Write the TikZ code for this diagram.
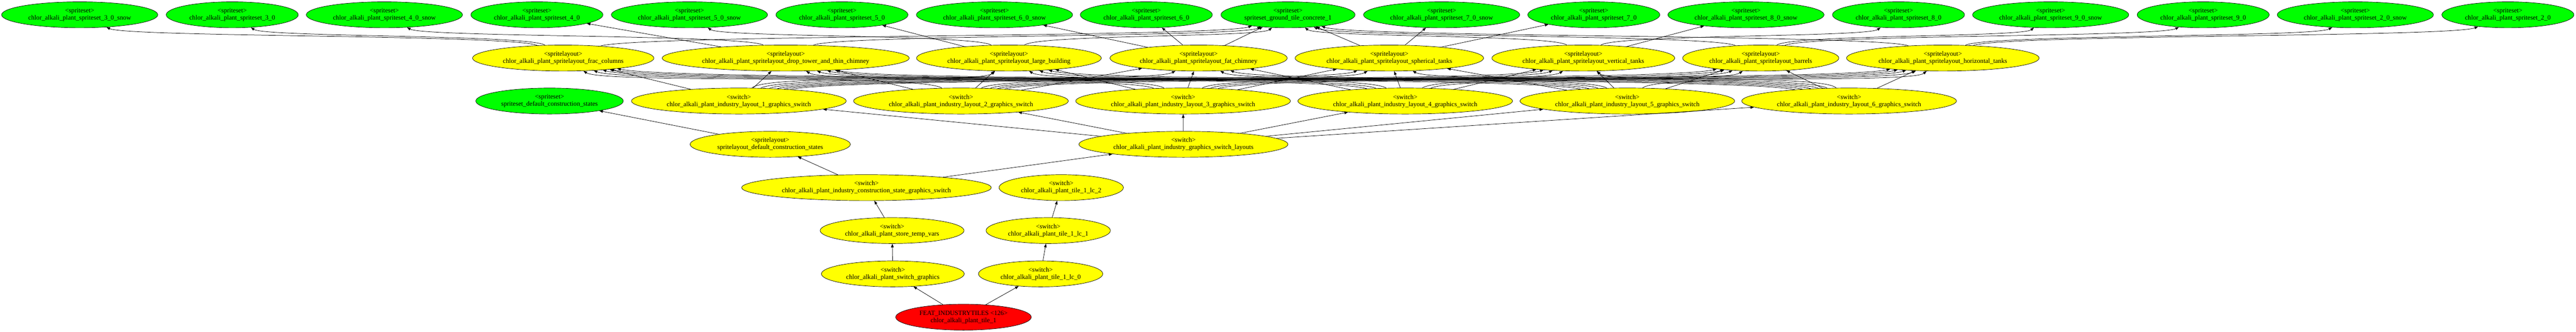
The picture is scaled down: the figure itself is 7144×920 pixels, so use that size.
\documentclass[tikz,border=0pt]{standalone}
\usepackage{fontspec}
\setmainfont{Liberation Serif}
\usetikzlibrary{shapes.geometric,arrows.meta}
\newcommand\pfx{chlor\_alkali\_plant\_}
\begin{document}
\begin{tikzpicture}[x=0.75pt,y=-0.75pt]
\tikzset{
  base/.style={ellipse, draw=black, line width=0.75pt, inner xsep=8pt, inner ysep=1pt,
    minimum height=54pt, align=center, font=\fontsize{13.6}{15}\selectfont},
  gnode/.style={base, fill={rgb,255:red,0;green,255;blue,0}},
  ynode/.style={base, fill={rgb,255:red,255;green,255;blue,0}},
  rnode/.style={base, fill={rgb,255:red,255;green,0;blue,0}},
  conn/.style={line width=0.8pt, -{Triangle[length=7.5pt,width=5.5pt]}}
}
\fill[white] (0,0) rectangle (7144,920);
\useasboundingbox (0,0) rectangle (7144,920);

% row 1: spritesets
\node[gnode] (s3snow) at (221,41) {<spriteset>\\\pfx spriteset\_3\_0\_snow};
\node[gnode] (s3) at (644,41) {<spriteset>\\\pfx spriteset\_3\_0};
\node[gnode] (s4snow) at (1066,41) {<spriteset>\\\pfx spriteset\_4\_0\_snow};
\node[gnode] (s4) at (1489,41) {<spriteset>\\\pfx spriteset\_4\_0};
\node[gnode] (s5snow) at (1912,41) {<spriteset>\\\pfx spriteset\_5\_0\_snow};
\node[gnode] (s5) at (2335,41) {<spriteset>\\\pfx spriteset\_5\_0};
\node[gnode] (s6snow) at (2758,41) {<spriteset>\\\pfx spriteset\_6\_0\_snow};
\node[gnode] (s6) at (3179,41) {<spriteset>\\\pfx spriteset\_6\_0};
\node[gnode] (gt) at (3572,41) {<spriteset>\\spriteset\_ground\_tile\_concrete\_1};
\node[gnode] (s7snow) at (3998,41) {<spriteset>\\\pfx spriteset\_7\_0\_snow};
\node[gnode] (s7) at (4420,41) {<spriteset>\\\pfx spriteset\_7\_0};
\node[gnode] (s8snow) at (4842,41) {<spriteset>\\\pfx spriteset\_8\_0\_snow};
\node[gnode] (s8) at (5265,41) {<spriteset>\\\pfx spriteset\_8\_0};
\node[gnode] (s9snow) at (5687,41) {<spriteset>\\\pfx spriteset\_9\_0\_snow};
\node[gnode] (s9) at (6110,41) {<spriteset>\\\pfx spriteset\_9\_0};
\node[gnode] (s2snow) at (6532,41) {<spriteset>\\\pfx spriteset\_2\_0\_snow};
\node[gnode] (s2) at (6955,41) {<spriteset>\\\pfx spriteset\_2\_0};

% row 2: spritelayouts
\node[ynode] (frac) at (1562,161) {<spritelayout>\\\pfx spritelayout\_frac\_columns};
\node[ynode] (drop) at (2179,161) {<spritelayout>\\\pfx spritelayout\_drop\_tower\_and\_thin\_chimney};
\node[ynode] (large) at (2798,161) {<spritelayout>\\\pfx spritelayout\_large\_building};
\node[ynode] (fat) at (3324,161) {<spritelayout>\\\pfx spritelayout\_fat\_chimney};
\node[ynode] (spher) at (3853,161) {<spritelayout>\\\pfx spritelayout\_spherical\_tanks};
\node[ynode] (vert) at (4391,161) {<spritelayout>\\\pfx spritelayout\_vertical\_tanks};
\node[ynode] (barrels) at (4883,161) {<spritelayout>\\\pfx spritelayout\_barrels};
\node[ynode] (horiz) at (5388,161) {<spritelayout>\\\pfx spritelayout\_horizontal\_tanks};

% row 3
\node[gnode] (sdcs) at (1524,280) {<spriteset>\\spriteset\_default\_construction\_states};
\node[ynode] (L1) at (2049,280) {<switch>\\\pfx industry\_layout\_1\_graphics\_switch};
\node[ynode] (L2) at (2665,280) {<switch>\\\pfx industry\_layout\_2\_graphics\_switch};
\node[ynode] (L3) at (3281,280) {<switch>\\\pfx industry\_layout\_3\_graphics\_switch};
\node[ynode] (L4) at (3897,280) {<switch>\\\pfx industry\_layout\_4\_graphics\_switch};
\node[ynode] (L5) at (4513,280) {<switch>\\\pfx industry\_layout\_5\_graphics\_switch};
\node[ynode] (L6) at (5128,280) {<switch>\\\pfx industry\_layout\_6\_graphics\_switch};

% row 4
\node[ynode] (spdcs) at (2136,400) {<spritelayout>\\spritelayout\_default\_construction\_states};
\node[ynode] (gsl) at (3282,400) {<switch>\\\pfx industry\_graphics\_switch\_layouts};

% row 5-8
\node[ynode] (cs) at (2403,520) {<switch>\\\pfx industry\_construction\_state\_graphics\_switch};
\node[ynode] (lc2) at (2943,520) {<switch>\\\pfx tile\_1\_lc\_2};
\node[ynode] (stv) at (2474,639) {<switch>\\\pfx store\_temp\_vars};
\node[ynode] (lc1) at (2907,639) {<switch>\\\pfx tile\_1\_lc\_1};
\node[ynode] (sg) at (2476,759) {<switch>\\\pfx switch\_graphics};
\node[ynode] (lc0) at (2886,759) {<switch>\\\pfx tile\_1\_lc\_0};
\node[rnode] (tile) at (2672,879) {FEAT\_INDUSTRYTILES <126>\\\pfx tile\_1};

% lower chain
\draw[conn] (tile) -- (sg);
\draw[conn] (tile) -- (lc0);
\draw[conn] (sg) -- (stv);
\draw[conn] (stv) -- (cs);
\draw[conn] (lc0) -- (lc1);
\draw[conn] (lc1) -- (lc2);
\draw[conn] (cs) -- (spdcs);
\draw[conn] (cs) -- (gsl);
\draw[conn] (spdcs) -- (sdcs);
\foreach \t in {L1,L2,L3,L4,L5,L6} \draw[conn] (gsl) -- (\t);

% layout switches -> spritelayouts
\foreach \a/\ax in {L1/2049,L2/2665,L3/3281,L4/3897,L5/4513,L6/5128}{
  \foreach \b/\bx in {frac/1562,drop/2179,large/2798,fat/3324,spher/3853,vert/4391,barrels/4883,horiz/5388}{
    \pgfmathsetmacro\dd{\bx-\ax}
    \pgfmathsetmacro\cc{0.1*\dd}
    \pgfmathsetmacro\cn{-0.1*\dd}
    \pgfmathsetmacro\ad{abs(\dd)}
    \ifdim \ad pt<700pt
      \draw[conn] (\a) -- (\b);
    \else
      \draw[conn] (\a) .. controls +(\cc,-75) and +(\cn,70) .. (\b);
    \fi
  }
}

% spritelayouts -> spritesets
\foreach \a/\ax/\b/\bx in {frac/1562/s3snow/221, frac/1562/s3/644, frac/1562/gt/3572,
  drop/2179/s4snow/1066, drop/2179/s4/1489, drop/2179/gt/3572,
  large/2798/s5snow/1912, large/2798/s5/2335, large/2798/gt/3572,
  fat/3324/s6snow/2758, fat/3324/s6/3179, fat/3324/gt/3572,
  spher/3853/gt/3572, spher/3853/s7snow/3998, spher/3853/s7/4420,
  vert/4391/gt/3572, vert/4391/s8snow/4842, vert/4391/s8/5265,
  barrels/4883/gt/3572, barrels/4883/s9snow/5687, barrels/4883/s9/6110,
  horiz/5388/gt/3572, horiz/5388/s2snow/6532, horiz/5388/s2/6955}{
    \pgfmathsetmacro\dd{\bx-\ax}
    \pgfmathsetmacro\cc{0.1*\dd}
    \pgfmathsetmacro\cn{-0.1*\dd}
    \pgfmathsetmacro\ad{abs(\dd)}
    \ifdim \ad pt<700pt
      \draw[conn] (\a) -- (\b);
    \else
      \draw[conn] (\a) .. controls +(\cc,-65) and +(\cn,62) .. (\b);
    \fi
}
\end{tikzpicture}
\end{document}
